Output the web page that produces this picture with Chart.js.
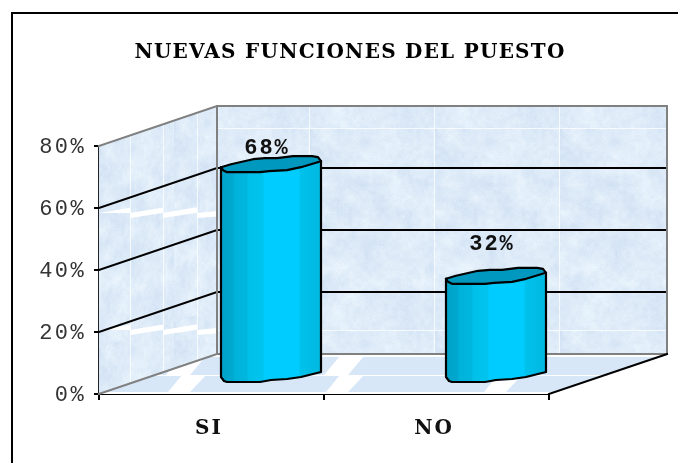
<!DOCTYPE html>
<html>
<head>
<meta charset="utf-8">
<style>html,body{margin:0;padding:0;background:#fff}canvas{display:block}</style>
<script src="https://cdn.jsdelivr.net/npm/chart.js@4/dist/chart.umd.min.js"></script>
</head>
<body>
<canvas id="c" width="678" height="463"></canvas>
<script>
const titleText = 'NUEVAS FUNCIONES DEL PUESTO';
const categories = ['SI', 'NO'];
const percentValues = [68, 32];
const axisMax = 80;
const axisStep = 20;
const labelLift = [15, 30];

const DEPTH_X = 118, DEPTH_Y = -40;
const BAR_DX = 59.5, BAR_DY = -20;
const FONT = '"Liberation Mono", monospace';
const SLAB = '"DejaVu Serif", serif';
const topEdge = [[-50,3],[-40,0],[-18,-5],[-6,-6],[6,-6],[22,-8],[41,-8],[47,-7],[50,-3]];
const lowEdge = [[50,-3],[30,3],[16,6],[-2,7],[-11,8],[-44,8],[-48,6],[-50,3]];
const botEdge = [[-50,3],[-47,7],[-44,8],[-11,8],[0,6],[16,5],[30,3],[50,-2]];

function texture() {
  const w = 125, h = 202, t = document.createElement('canvas');
  t.width = w; t.height = h;
  const g = t.getContext('2d'), img = g.createImageData(w, h);
  const hash = (a, b) => { const s = Math.sin(a * 12.9898 + b * 78.233) * 43758.5453; return s - Math.floor(s); };
  const vn = (x, y) => {
    const xi = Math.floor(x), yi = Math.floor(y), fx = x - xi, fy = y - yi;
    const a = hash(xi, yi), b = hash(xi + 1, yi), c = hash(xi, yi + 1), d = hash(xi + 1, yi + 1);
    return (a * (1 - fx) + b * fx) * (1 - fy) + (c * (1 - fx) + d * fx) * fy;
  };
  for (let y = 0; y < h; y++) for (let x = 0; x < w; x++) {
    const n = vn(x / 14, y / 14) * 0.5 + vn(x / 4, y / 4) * 0.3 + hash(x, y) * 0.2 - 0.5;
    const i = (y * w + x) * 4;
    img.data[i] = 222 + n * 34; img.data[i + 1] = 235 + n * 26; img.data[i + 2] = 248 + n * 12; img.data[i + 3] = 255;
  }
  g.putImageData(img, 0, 0);
  return t;
}
const tex = texture();

function poly(ctx, pts, close) {
  ctx.beginPath();
  pts.forEach((p, i) => i ? ctx.lineTo(p[0], p[1]) : ctx.moveTo(p[0], p[1]));
  if (close) ctx.closePath();
}
function wave(ctx, cx, cy, pts, start) {
  pts.forEach((p, i) => {
    const x = cx + p[0], y = cy + p[1];
    if (i === 0 && start) ctx.moveTo(x, y); else ctx.lineTo(x, y);
  });
}
function spaced(chart, id, spacing) {
  const s = chart.scales[id], ctx = chart.ctx;
  if (s._spacedDone) return;
  const d = s.drawLabels.bind(s);
  s.drawLabels = a => { const keep = ctx.letterSpacing; ctx.letterSpacing = spacing; d(a); ctx.letterSpacing = keep; };
  s._spacedDone = true;
}

const cube = {
  id: 'cube',
  beforeDraw(chart) {
    const ctx = chart.ctx;
    ctx.letterSpacing = '1.25px';
    spaced(chart, 'y', '2.4px');
    spaced(chart, 'x', '2px');
    ctx.fillStyle = '#000';
    ctx.fillRect(11, 12, 667, 2);
    ctx.fillRect(11, 12, 2, 451);
  },
  beforeDatasetsDraw(chart) {
    const ctx = chart.ctx, a = chart.chartArea, y = chart.scales.y;
    const L = a.left, R = a.right, T = a.top, B = a.bottom;
    const backL = L + DEPTH_X, backR = R + DEPTH_X, backT = T + DEPTH_Y, backB = B + DEPTH_Y;
    const pat = ctx.createPattern(tex, 'repeat');

    ctx.save();
    ctx.fillStyle = pat;
    ctx.translate(60, 128);
    ctx.fillRect(backL - 60, backT - 128, backR - backL, backB - backT);
    ctx.restore();

    ctx.fillStyle = 'rgba(255,255,255,.75)';
    [309, 434, 559].forEach(x => ctx.fillRect(x, backT, 1, backB - backT));
    [128, 330].forEach(v => ctx.fillRect(backL, v, backR - backL, 1));

    ctx.save();
    poly(ctx, [[L, T], [backL, backT], [backL, backB], [L, B]], true);
    ctx.clip();
    ctx.translate(L, T);
    ctx.transform(0.6, DEPTH_Y / DEPTH_X * 0.6, 0, 1, 0, 0);
    ctx.fillStyle = pat;
    ctx.fillRect(-10, -20, 230, 320);
    ctx.restore();

    ctx.save();
    poly(ctx, [[L, T], [backL, backT], [backL, backB], [L, B]], true);
    ctx.clip();
    ctx.fillStyle = '#fff';
    [[99, 130], [130, 163], [163, 197], [197, 217]].forEach(c => {
      [213, 330].forEach(r => {
        const s = (c[1] - c[0]) * 0.17, first = c[0] === 99;
        const t = c[0] === 197 ? 0.6 : 1;
        if (first) poly(ctx, [[c[0], r], [c[1], r - s], [c[1], r]], true);
        else poly(ctx, [[c[0], r], [c[1], r - s * t], [c[1], r + 5 - s * t + 0.5], [c[0], r + 5]], true);
        ctx.fill();
      });
    });
    ctx.fillStyle = 'rgba(255,255,255,.75)';
    [130, 163, 197].forEach(x => ctx.fillRect(x, backT, 1, B - backT));
    ctx.restore();

    ctx.save();
    poly(ctx, [[L, B], [backL, backB], [backR, backB], [R, B]], true);
    ctx.clip();
    ctx.fillStyle = '#fff';
    ctx.fillRect(L, backT, backR - L, B - backT);
    ctx.fillStyle = '#D8E7F7';
    ctx.fillRect(L, backB + 3, backR - L, 18);
    ctx.fillRect(L, backB + 22, backR - L, 16);
    ctx.fillStyle = '#fff';
    [182, 340, 498, 656].forEach(x => {
      poly(ctx, [[x, backB + 2], [x + 24, backB + 2], [x + 8, backB + 21], [x - 16, backB + 21]], true);
      ctx.fill();
      poly(ctx, [[x, backB + 21], [x + 24, backB + 21], [x + 8, B - 2], [x - 14, B - 2]], true);
      ctx.fill();
    });
    ctx.restore();

    ctx.lineCap = 'square';
    y.ticks.forEach(t => {
      const py = y.getPixelForValue(t.value);
      if (t.value === 0 || t.value === axisMax) return;
      ctx.strokeStyle = '#000'; ctx.lineWidth = 2;
      poly(ctx, [[L, py], [backL, py + DEPTH_Y], [backR, py + DEPTH_Y]]);
      ctx.stroke();
    });
    ctx.strokeStyle = '#808080'; ctx.lineWidth = 2;
    poly(ctx, [[L, T], [backL, backT], [backR, backT], [backR, backB], [backL, backB], [L, B]]);
    ctx.stroke();
    poly(ctx, [[backL, backT], [backL, backB]]);
    ctx.stroke();
    ctx.strokeStyle = '#000';
    poly(ctx, [[R, B], [backR, backB]]);
    ctx.stroke();

    const meta = chart.getDatasetMeta(0);
    ctx.save();
    ctx.fillStyle = '#111';
    ctx.font = 'bold 22px ' + FONT;
    ctx.letterSpacing = '2px';
    ctx.textAlign = 'center';
    ctx.textBaseline = 'middle';
    meta.data.forEach((el, i) => {
      ctx.fillText(percentValues[i] + '%', el.x + BAR_DX - 4, el.y + BAR_DY - labelLift[i]);
    });
    ctx.restore();
  },
  beforeDatasetDraw(chart) {
    const ctx = chart.ctx, meta = chart.getDatasetMeta(0);
    meta.data.forEach((el, i) => {
      const by = el.base + BAR_DY;
      ctx.save();
      ctx.fillStyle = barFill(chart, i);
      ctx.translate(BAR_DX, 0);
      ctx.beginPath();
      ctx.moveTo(el.x - 50, by - 6);
      ctx.lineTo(el.x + 50, by - 6);
      wave(ctx, el.x, by + 1, botEdge.slice().reverse(), false);
      ctx.closePath();
      ctx.fill();
      ctx.restore();
    });
    ctx.save();
    ctx.translate(BAR_DX, BAR_DY);
    ctx.beginPath();
    meta.data.forEach(el => {
      wave(ctx, el.x, el.y + 1, topEdge, true);
      ctx.lineTo(el.x + 50, el.base + 1);
      ctx.lineTo(el.x - 50, el.base + 1);
      ctx.closePath();
    });
    ctx.clip();
  },
  afterDatasetDraw(chart) {
    const ctx = chart.ctx, meta = chart.getDatasetMeta(0);
    ctx.restore();
    ctx.save();
    ctx.lineJoin = 'round';
    ctx.lineWidth = 2.2;
    ctx.strokeStyle = '#000';
    meta.data.forEach(el => {
      const cx = el.x + BAR_DX, ty = el.y + BAR_DY + 1, by = el.base + BAR_DY + 1;
      ctx.beginPath();
      wave(ctx, cx, ty, topEdge, true);
      wave(ctx, cx, ty, lowEdge, false);
      ctx.closePath();
      ctx.fillStyle = '#0098BE';
      ctx.fill();
      ctx.stroke();
      ctx.beginPath();
      ctx.moveTo(cx - 50, ty + 3);
      ctx.lineTo(cx - 50, by + 3);
      wave(ctx, cx, by, botEdge, false);
      ctx.lineTo(cx + 50, ty - 3);
      ctx.stroke();
    });
    ctx.restore();
  }
};

function barFill(chart, i) {
  const x = chart.scales.x.getPixelForValue(i);
  const g = chart.ctx.createLinearGradient(x - 50, 0, x + 50, 0);
  [[0, '#00A2C8'], [.12, '#00A8CF'], [.13, '#00B2DA'], [.26, '#00B6DF'], [.27, '#00C0E9'], [.42, '#00C4EE'], [.43, '#00CCFF'], [.78, '#00CCFF'], [.79, '#00C2EC'], [1, '#00B8E0']]
    .forEach(s => g.addColorStop(s[0], s[1]));
  return g;
}

new Chart(document.getElementById('c'), {
  type: 'bar',
  data: {
    labels: categories,
    datasets: [{
      data: percentValues,
      clip: false,
      backgroundColor: c => c.chart.chartArea ? barFill(c.chart, c.dataIndex) : '#00CCFF',
      borderWidth: 0,
      barThickness: 100
    }]
  },
  options: {
    responsive: false,
    animation: false,
    events: [],
    layout: { padding: { left: 22, right: 0, top: 0, bottom: 0 } },
    plugins: {
      legend: { display: false },
      tooltip: { enabled: false },
      title: {
        display: true,
        text: titleText,
        color: '#000',
        font: { family: SLAB, size: 20, weight: 'bold', lineHeight: 1.2 },
        padding: { top: 41, bottom: 81 }
      }
    },
    scales: {
      x: {
        offset: true,
        grid: { drawOnChartArea: false, drawTicks: true, tickLength: 6, color: '#000', lineWidth: 2 },
        border: { color: '#000', width: 2 },
        ticks: { color: '#111', padding: 17, labelOffset: -2.5, maxRotation: 0, font: { family: SLAB, size: 20, weight: 'bold' } },
        afterFit: s => { s.height = 69; }
      },
      y: {
        min: 0,
        max: axisMax,
        grid: { drawOnChartArea: false, drawTicks: true, tickLength: 5, color: '#000', lineWidth: 2 },
        border: { color: '#222', width: 2 },
        ticks: { stepSize: axisStep, color: '#333', padding: 8, labelOffset: 1, font: { family: FONT, size: 22 }, callback: v => v + '%' },
        afterFit: s => { s.width = 77; }
      },
      pad: {
        position: 'right',
        min: 0,
        max: 1,
        grid: { display: false },
        border: { display: false },
        ticks: { display: false },
        afterFit: s => { s.width = 129; }
      }
    }
  },
  plugins: [cube]
});
</script>
</body>
</html>
